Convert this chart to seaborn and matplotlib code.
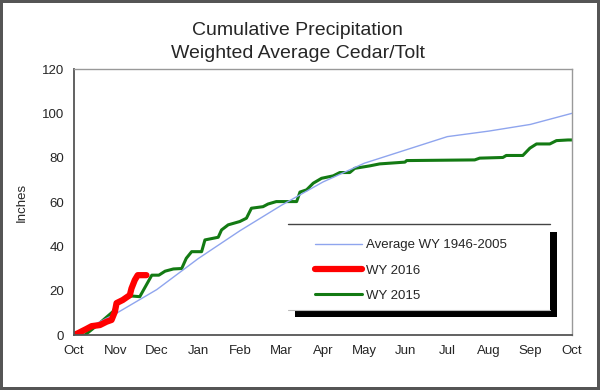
import matplotlib
matplotlib.use("Agg")
import matplotlib.pyplot as plt
from matplotlib.patches import Rectangle
import pandas as pd
import seaborn as sns

# month index: 0 = Oct 1, 12 = next Oct 1
month_labels = ["Oct", "Nov", "Dec", "Jan", "Feb", "Mar", "Apr",
                "May", "Jun", "Jul", "Aug", "Sep", "Oct"]

avg_month = [0, 1, 2, 3, 4, 5, 6, 7, 8, 9, 10, 11, 12]
avg_in = [0, 9.5, 20.5, 34.5, 47, 58.5, 69, 77.5, 83.5, 89.5, 92, 95, 100]

wy2016_month = [0, 0.1, 0.3, 0.43, 0.63, 0.79, 0.91, 0.99, 1.03, 1.18,
                1.35, 1.39, 1.47, 1.54, 1.75]
wy2016_in = [0, 0.8, 2.7, 4, 4.5, 6, 6.8, 10.5, 14.4, 15.8,
             18, 21, 24.8, 27, 27]

wy2015_month = [0, 0.27, 0.6, 0.94, 1.06, 1.25, 1.39, 1.59, 1.88, 2.05,
                2.2, 2.4, 2.6, 2.71, 2.84, 3.08, 3.16, 3.48, 3.56, 3.72,
                4.0, 4.16, 4.28, 4.56, 4.68, 4.88, 5.37, 5.45, 5.61, 5.77,
                5.97, 6.25, 6.41, 6.65, 6.77, 7.13, 7.37, 7.98, 8.02, 9.66,
                9.78, 10.34, 10.42, 10.82, 10.99, 11.15, 11.47, 11.63, 11.91, 12]
wy2015_in = [0, 0, 5, 10.5, 14.4, 16.5, 17.6, 17.3, 27, 27,
             28.8, 29.8, 30, 34.6, 37.6, 37.6, 42.9, 44.1, 47.4, 49.7,
             51.2, 52.7, 57.2, 57.9, 59.1, 60.2, 60.2, 64.5, 65.5, 68.5,
             70.7, 71.8, 73.3, 73.3, 75.2, 76.3, 77.2, 78, 78.7, 79,
             79.8, 80.1, 81, 81, 84.3, 86.2, 86.2, 87.7, 88, 88]

sns.set_style("white")
plt.rcParams['font.family'] = ['Liberation Sans', 'DejaVu Sans']

fig = plt.figure(figsize=(6, 3.9), dpi=100)
fig.patch.set_edgecolor('#555555')
fig.patch.set_linewidth(3)
ax = fig.add_axes([0.123, 0.141, 0.830, 0.682])

sns.lineplot(x=avg_month, y=avg_in, ax=ax, color='#8fa5ee', lw=1,
             sort=False, estimator=None, label='Average WY 1946-2005')
sns.lineplot(x=wy2016_month, y=wy2016_in, ax=ax, color='#ff0000', lw=4.5,
             sort=False, estimator=None, label='WY 2016',
             solid_capstyle='round')
sns.lineplot(x=wy2015_month, y=wy2015_in, ax=ax, color='#137a13', lw=2.2,
             sort=False, estimator=None, label='WY 2015')
# keep green under red as in the original
ax.lines[2].set_zorder(1.5)

ax.set_xlim(0, 12)
ax.set_ylim(0, 120)
ax.set_xticks(range(13))
ax.set_xticklabels(month_labels)
ax.set_yticks(range(0, 121, 20))
ax.tick_params(axis='both', labelsize=9.5, direction='inout', length=6,
               width=1, color='#444444', pad=4)
ax.set_ylabel("Inches", fontsize=9.5, labelpad=10)
ax.set_xlabel("")

for side in ['left', 'bottom']:
    ax.spines[side].set_color('#555555')
    ax.spines[side].set_linewidth(1.3)
for side in ['top', 'right']:
    ax.spines[side].set_color('#999999')
    ax.spines[side].set_linewidth(1)

# legend box with black drop shadow
bx0, by0, bw, bh = 0.430, 0.094, 0.527, 0.322
ax.add_patch(Rectangle((bx0 + 0.014, by0 - 0.027), bw, bh,
                       transform=ax.transAxes, facecolor='black',
                       edgecolor='none', zorder=4))
ax.add_patch(Rectangle((bx0, by0), bw, bh, transform=ax.transAxes,
                       facecolor='white', edgecolor='none', zorder=4.1))
ax.plot([bx0, bx0 + bw], [by0 + bh, by0 + bh], transform=ax.transAxes,
        color='#444444', lw=1, zorder=4.2)
ax.plot([bx0, bx0 + bw], [by0, by0], transform=ax.transAxes,
        color='#bbbbbb', lw=0.8, zorder=4.2)
leg = ax.legend(loc='upper left', bbox_to_anchor=(bx0 + 0.03, by0 + bh - 0.01),
                frameon=False, fontsize=9.5, handlelength=3.6,
                handletextpad=0.3, labelspacing=1.0)
leg.set_zorder(5)

fig.text(0.496, 0.910, "Cumulative Precipitation",
         ha='center', va='baseline', fontsize=14)
fig.text(0.496, 0.851, "Weighted Average Cedar/Tolt",
         ha='center', va='baseline', fontsize=14)

fig.savefig("out.png", dpi=100)
